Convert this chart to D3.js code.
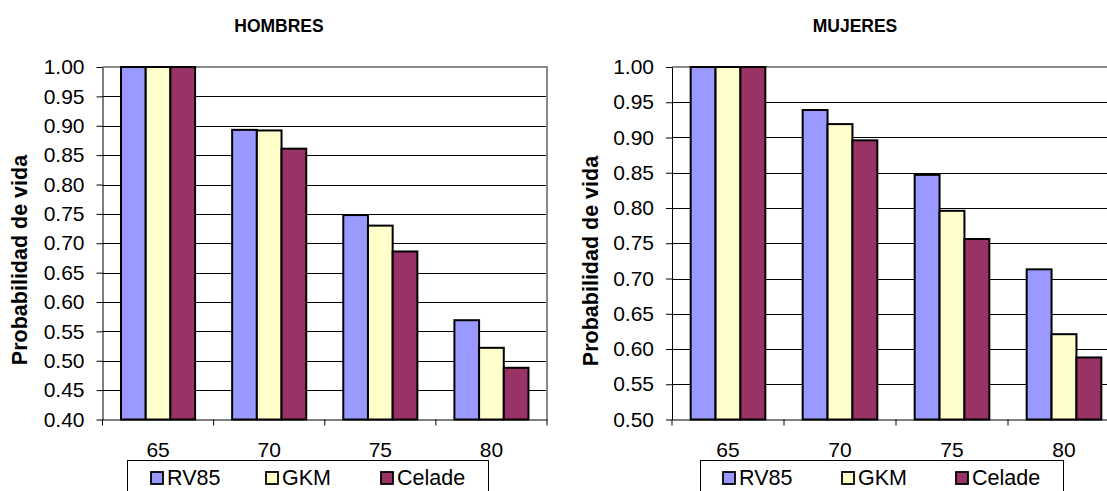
<!DOCTYPE html>
<html>
<head>
<meta charset="utf-8">
<script src="https://cdn.jsdelivr.net/npm/d3@7"></script>
<style>
  html, body { margin: 0; padding: 0; background: #ffffff; }
  svg { display: block; font-family: "Liberation Sans", Arial, sans-serif; }
</style>
</head>
<body>
<svg id="chart" width="1107" height="491"></svg>
<script>
// Age groups on the x axis and the three life tables compared
const categories = ["65", "70", "75", "80"];
const seriesNames = ["RV85", "GKM", "Celade"];
const seriesColors = ["#9999ff", "#ffffcc", "#993366"];

// Probability of survival, men
const hombresRV85   = [1.000, 0.893, 0.748, 0.569];
const hombresGKM    = [1.000, 0.892, 0.730, 0.522];
const hombresCelade = [1.000, 0.861, 0.686, 0.488];

// Probability of survival, women
const mujeresRV85   = [1.000, 0.939, 0.847, 0.713];
const mujeresGKM    = [1.000, 0.919, 0.796, 0.621];
const mujeresCelade = [1.000, 0.896, 0.756, 0.588];

// Y tick values for each panel
const hombresTicks = [0.40, 0.45, 0.50, 0.55, 0.60, 0.65, 0.70, 0.75, 0.80, 0.85, 0.90, 0.95, 1.00];
const mujeresTicks = [0.50, 0.55, 0.60, 0.65, 0.70, 0.75, 0.80, 0.85, 0.90, 0.95, 1.00];

const yAxisTitle = "Probabilidad de vida";

const svg = d3.select("#chart");
svg.append("rect").attr("width", 1107).attr("height", 491).attr("fill", "#ffffff");

function drawPanel(cfg) {
  const g = svg.append("g");
  const ticks = cfg.ticks;
  const yMin = ticks[0], yMax = ticks[ticks.length - 1];

  const x = d3.scaleBand().domain(categories).range([cfg.left, cfg.right]);
  const xs = d3.scaleBand().domain(seriesNames).range([0, x.bandwidth()]).paddingOuter(0.75);
  const y = d3.scaleLinear().domain([yMin, yMax]).range([cfg.bottom, cfg.top]);

  // horizontal gridlines
  g.append("g").selectAll("line").data(ticks.slice(1, -1)).join("line")
    .attr("x1", cfg.left).attr("x2", cfg.right)
    .attr("y1", d => Math.round(y(d)) + 0.5).attr("y2", d => Math.round(y(d)) + 0.5)
    .attr("stroke", "#000").attr("stroke-width", 1);

  // plot-area border (top and right)
  g.append("line")
    .attr("x1", cfg.left).attr("x2", cfg.right + 1)
    .attr("y1", y(yMax)).attr("y2", y(yMax))
    .attr("stroke", "#8a8a8a").attr("stroke-width", 2);
  g.append("line")
    .attr("x1", cfg.right).attr("x2", cfg.right)
    .attr("y1", y(yMax)).attr("y2", y(yMin))
    .attr("stroke", "#8a8a8a").attr("stroke-width", 2);

  // bars
  cfg.values.forEach((vals, si) => {
    g.append("g").selectAll("rect").data(vals).join("rect")
      .attr("x", (d, i) => x(categories[i]) + xs(seriesNames[si]))
      .attr("y", d => y(d))
      .attr("width", xs.bandwidth())
      .attr("height", d => y(yMin) - y(d))
      .attr("fill", seriesColors[si])
      .attr("stroke", "#000").attr("stroke-width", 2);
  });

  // y axis
  const yAxis = g.append("g")
    .attr("transform", `translate(${cfg.left},0)`)
    .call(d3.axisLeft(y).tickValues(ticks).tickFormat(d3.format(".2f"))
      .tickSize(6).tickSizeOuter(0).tickPadding(12));
  yAxis.select(".domain").attr("stroke", "#000");
  yAxis.selectAll(".tick line").attr("stroke", "#000");
  yAxis.selectAll("text").attr("font-size", 21).attr("fill", "#000")
    .attr("font-family", "'Liberation Sans', Arial, sans-serif");

  // x axis with labels centred in each band
  const xAxis = g.append("g")
    .attr("transform", `translate(0,${cfg.bottom})`)
    .call(d3.axisBottom(x).tickSize(0).tickSizeOuter(0).tickPadding(23));
  xAxis.select(".domain").attr("stroke", "#000");
  xAxis.selectAll("text").attr("font-size", 21).attr("fill", "#000")
    .attr("font-family", "'Liberation Sans', Arial, sans-serif");

  // tick marks between the category bands
  const bounds = categories.map(c => x(c)).concat([cfg.right]);
  g.append("g").selectAll("line").data(bounds).join("line")
    .attr("x1", d => d).attr("x2", d => d)
    .attr("y1", cfg.bottom).attr("y2", cfg.bottom + 6)
    .attr("stroke", "#000");

  // panel title
  g.append("text")
    .attr("x", cfg.titleX).attr("y", 32)
    .attr("text-anchor", "middle")
    .attr("font-weight", "bold").attr("font-size", 17.5)
    .text(cfg.title);

  // y axis title
  g.append("text")
    .attr("transform", `translate(${cfg.yTitleX},${cfg.yTitleY}) rotate(-90)`)
    .attr("text-anchor", "middle")
    .attr("font-weight", "bold").attr("font-size", 21.5)
    .text(yAxisTitle);

  // legend
  const lg = g.append("g");
  lg.append("rect")
    .attr("x", cfg.legend.x + 0.5).attr("y", cfg.legend.y + 0.5)
    .attr("width", cfg.legend.w).attr("height", 50)
    .attr("fill", "#fff").attr("stroke", "#000").attr("stroke-width", 1);
  seriesNames.forEach((name, i) => {
    const sx = cfg.legend.items[i];
    lg.append("rect")
      .attr("x", sx).attr("y", 472)
      .attr("width", 12).attr("height", 12)
      .attr("fill", seriesColors[i]).attr("stroke", "#000").attr("stroke-width", 1.8);
    lg.append("text")
      .attr("x", sx + 16).attr("y", 484.5)
      .attr("font-size", 21.5)
      .text(name);
  });
}

drawPanel({
  title: "HOMBRES", titleX: 279,
  left: 102.5, right: 547, top: 67, bottom: 419.5,
  ticks: hombresTicks,
  values: [hombresRV85, hombresGKM, hombresCelade],
  yTitleX: 26.5, yTitleY: 260,
  legend: { x: 127, y: 460, w: 361, items: [151, 266, 381] }
});

drawPanel({
  title: "MUJERES", titleX: 855,
  left: 672, right: 1120, top: 67, bottom: 419.5,
  ticks: mujeresTicks,
  values: [mujeresRV85, mujeresGKM, mujeresCelade],
  yTitleX: 598, yTitleY: 261,
  legend: { x: 700, y: 460, w: 363, items: [723, 842, 956] }
});
</script>
</body>
</html>
